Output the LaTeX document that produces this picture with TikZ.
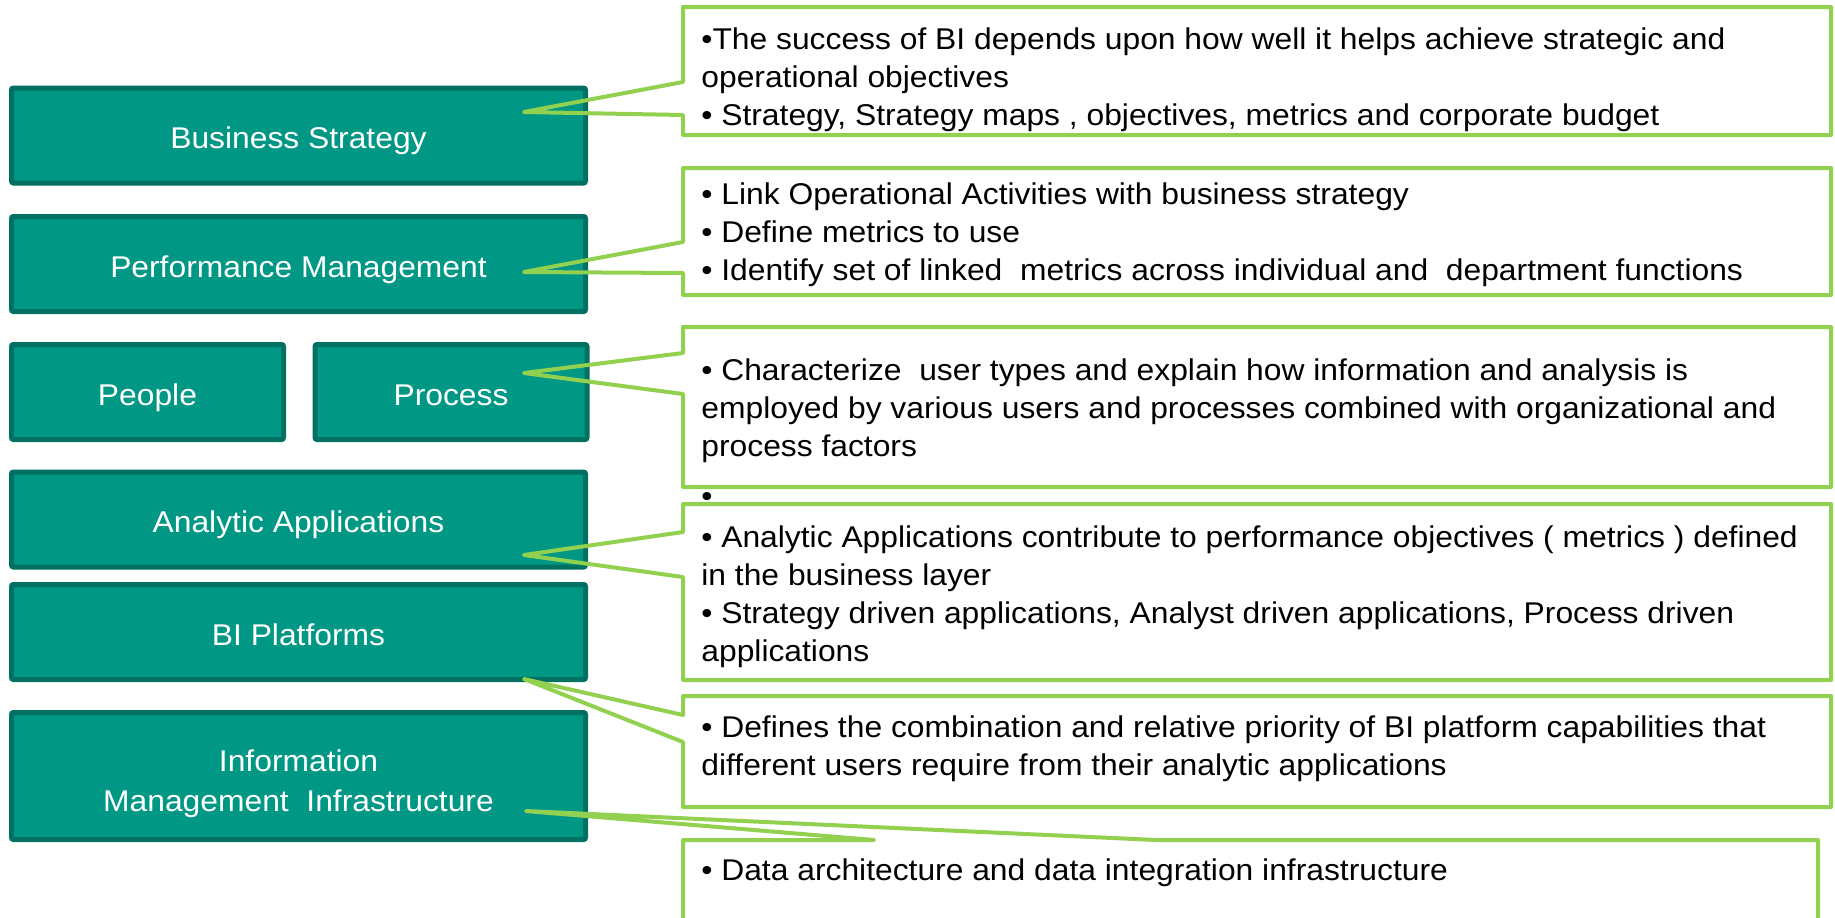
\documentclass[tikz,border=0pt]{standalone}
\usepackage{fontspec}
\setmainfont[FakeStretch=1.06]{Liberation Sans}
\usetikzlibrary{positioning}
\definecolor{colteal}{RGB}{0,152,133}
\definecolor{coltealdark}{RGB}{0,112,96}
\definecolor{colgreen}{RGB}{146,208,80}
\tikzset{
  % LAYER BOXES
  frameLayer/.style={
    rectangle,
    draw=coltealdark, line width=2.5pt,
    fill=colteal, rounded corners=1pt,
    text=white, align=center,
    text height=13pt, text depth=0pt,
    minimum width=287pt, minimum height=47.5pt,
    font=\fontsize{15}{19}\selectfont
  },
  % NOTE TEXTS
  frameNote/.style={
    anchor=north west, inner sep=0pt,
    align=left, text=black,
    font=\fontsize{15}{19}\selectfont
  },
  % CALLOUT OUTLINES
  lineNote/.style={
    draw=colgreen, line width=2pt, line join=round
  }
}
\begin{document}
\begin{tikzpicture}[x=0.5pt,y=-0.5pt]
\useasboundingbox (0,0) rectangle (1835,917);
\clip (0,0) rectangle (1835,917);

% Layer boxes on the left
\node [frameLayer] (strategy) at (298.5,135.5) {Business Strategy} ;
\node [frameLayer] (performance) at (298.5,264) {Performance Management} ;
\node [frameLayer, minimum width=136pt] (people) at (147.5,392) {People} ;
\node [frameLayer, minimum width=136pt] (process) at (451,392) {Process} ;
\node [frameLayer] (analytic) at (298.5,519.5) {Analytic Applications} ;
\node [frameLayer] (platforms) at (298.5,632) {BI Platforms} ;
\node [frameLayer, minimum height=63.5pt, text height=35pt, font=\fontsize{15}{20}\selectfont] (infra) at (298.5,776) {Information\\Management\ \ Infrastructure} ;

% Pointer tips
\coordinate (strategyTip) at (524,112) ;
\coordinate (performanceTip) at (524,272) ;
\coordinate (processTip) at (524,373) ;
\coordinate (analyticTip) at (524,555) ;
\coordinate (platformsTip) at (524,679) ;
\coordinate (infraTip) at (526,811) ;

% Callouts
\path [lineNote] (strategyTip) -- (683,82) |- (1831,7) |- (683,135) -- (683,115) -- cycle ;
\path [lineNote] (performanceTip) -- (683,242) |- (1831,168) |- (683,295) -- (683,273) -- cycle ;
\path [lineNote] (processTip) -- (683,353) |- (1831,327) |- (683,487) -- (683,394) -- cycle ;
\path [lineNote] (analyticTip) -- (683,532) |- (1831,504) |- (683,680) -- (683,577) -- cycle ;
\path [lineNote] (platformsTip) -- (683,715) |- (1831,696) |- (683,807) -- (683,742) -- cycle ;
\path [lineNote] (683,930) |- (874,840) -- (infraTip) -- (1156,840) -| (1818,930) ;

% Callout texts
\node [frameNote] (strategyNote) at (701,22) {\strut •The success of BI depends upon how well it helps achieve strategic and\\operational objectives\\• Strategy, Strategy maps , objectives, metrics and corporate budget} ;
\node [frameNote] (performanceNote) at (701,177) {\strut • Link Operational Activities with business strategy\\• Define metrics to use\\• Identify set of linked\ \ metrics across individual and\ \ department functions} ;
\node [frameNote] (processNote) at (701,353) {\strut • Characterize\ \ user types and explain how information and analysis is\\employed by various users and processes combined with organizational and\\process factors\\[6pt]•} ;
\node [frameNote] (analyticNote) at (701,520) {\strut • Analytic Applications contribute to performance objectives ( metrics ) defined\\in the business layer\\• Strategy driven applications, Analyst driven applications, Process driven\\applications} ;
\node [frameNote] (platformsNote) at (701,710) {\strut • Defines the combination and relative priority of BI platform capabilities that\\different users require from their analytic applications} ;
\node [frameNote] (infraNote) at (701,853) {\strut • Data architecture and data integration infrastructure} ;

\end{tikzpicture}
\end{document}
